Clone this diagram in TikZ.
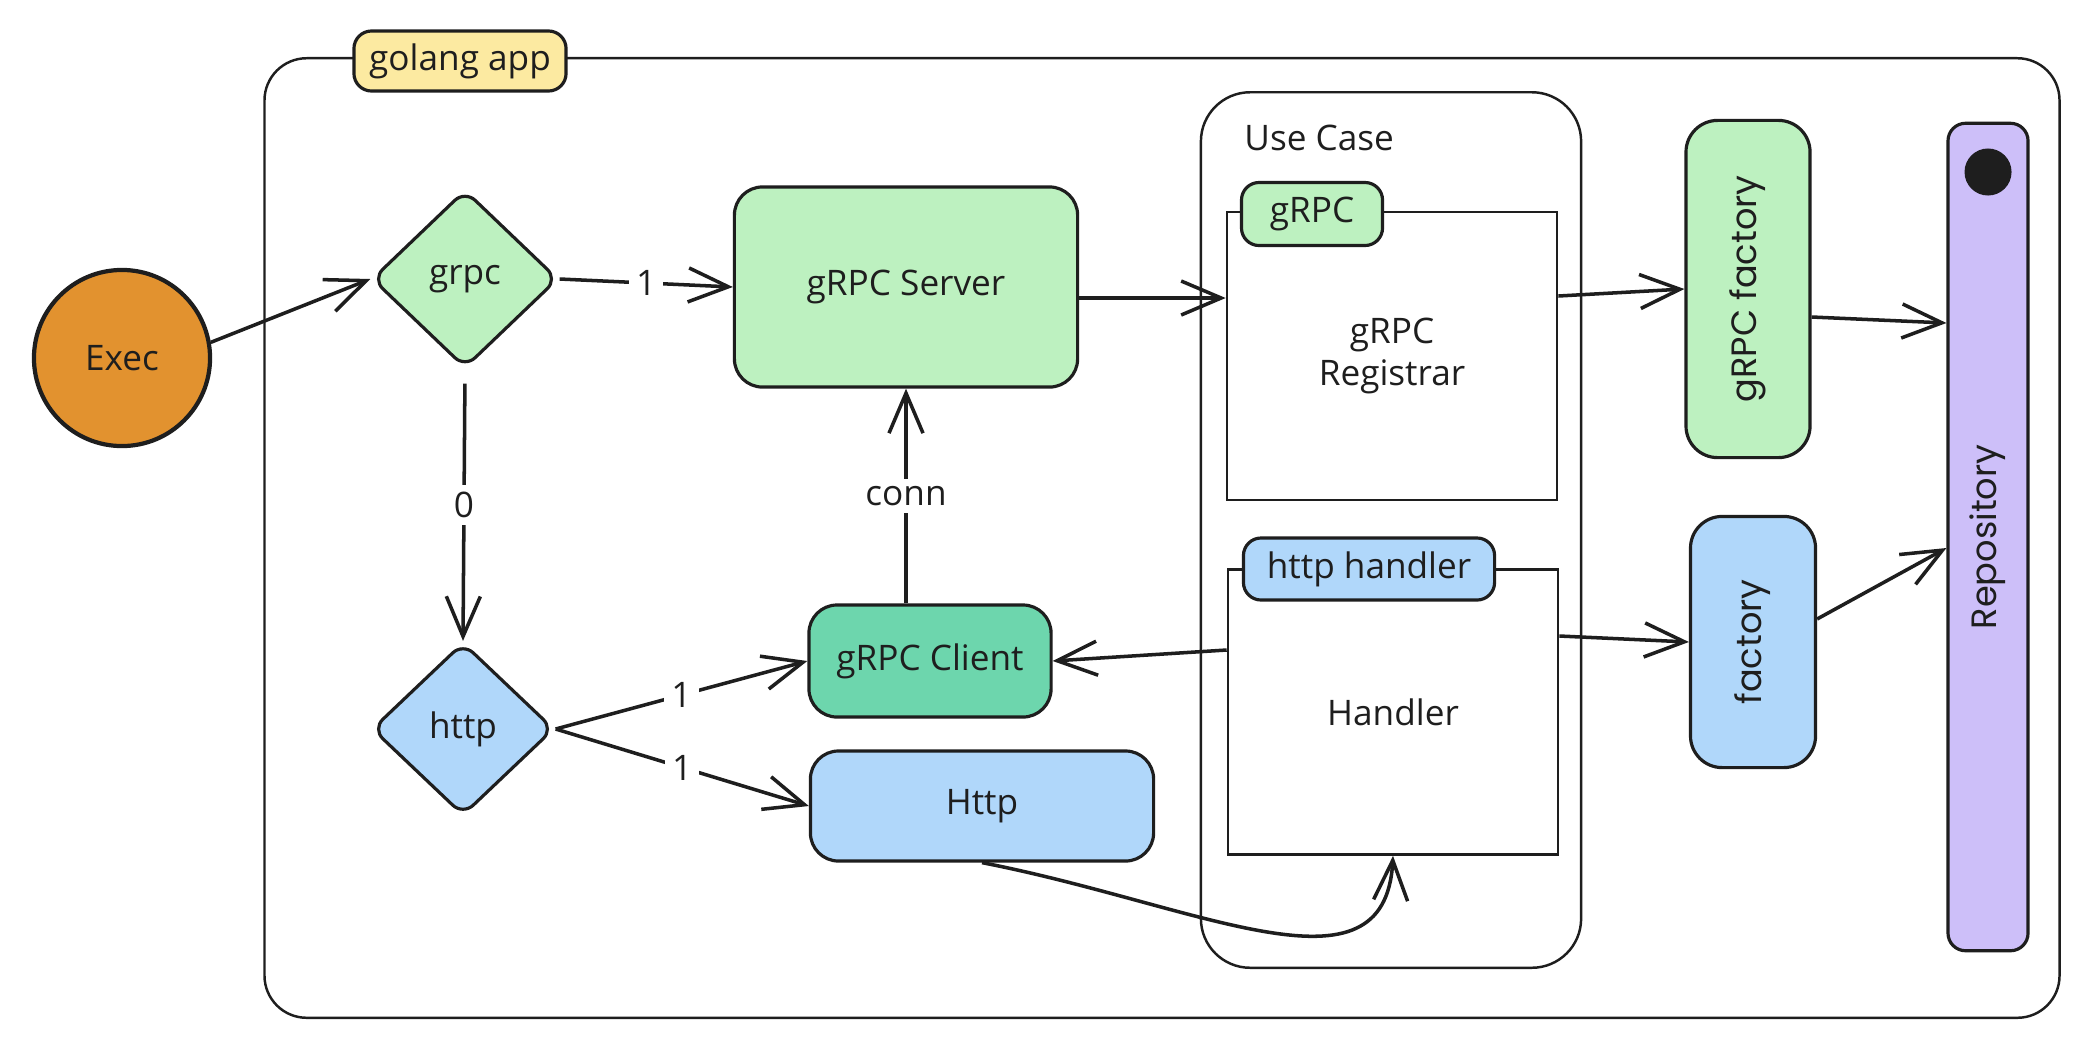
\documentclass[tikz,border=0pt]{standalone}
\usepackage{fontspec}
\setmainfont{Open Sans}
\newfontfamily\sidefont{Poppins}
\usetikzlibrary{arrows.meta,shapes.geometric,calc}
\definecolor{ink}{HTML}{1E1E1E}
\definecolor{execorange}{HTML}{E2922F}
\definecolor{grpcgreen}{HTML}{BDF1C0}
\definecolor{clientgreen}{HTML}{6DD6AD}
\definecolor{httpblue}{HTML}{B0D7FA}
\definecolor{repopurple}{HTML}{CDBFF9}
\definecolor{appyellow}{HTML}{FCEAA1}

\begin{document}
\begin{tikzpicture}[x=0.01cm,y=-0.01cm,font=\fontsize{10}{12}\selectfont]
\tikzstyle{every node}=[text=ink]
\tikzstyle{box}=[draw=ink,line width=0.9pt,rounded corners=8pt,align=center,inner sep=0pt]
\tikzstyle{choice}=[diamond,draw=ink,line width=0.9pt,rounded corners=4pt,inner sep=0pt]
\tikzstyle{frame}=[draw=ink,line width=0.7pt,fill=white,inner sep=0pt,align=center]
\tikzstyle{tab}=[draw=ink,line width=0.9pt,rounded corners=5pt,inner sep=0pt]
\tikzstyle{sidebar}=[box,rounded corners=9pt,rotate=90,font=\sidefont\fontsize{10}{12}\selectfont]
\tikzstyle{flow}=[draw=ink,line width=1pt,-{Straight Barb[length=4mm,width=3.4mm]}]
\tikzstyle{lbl}=[fill=white,inner sep=2pt]
\useasboundingbox (0,0) rectangle (2086,1048);

% frames
\node[frame,rounded corners=12pt,minimum width=17.94cm,minimum height=9.59cm] (app) at (1162,538) {};
\node[tab,fill=appyellow,minimum width=2.12cm,minimum height=0.6cm] (appname) at (460,61) {golang app};

\node[frame,rounded corners=14pt,minimum width=3.8cm,minimum height=8.75cm] (usecase) at (1391,530) {};
\node[anchor=west] (usecasename) at (1232,138) {Use Case};

\node[frame,minimum width=3.3cm,minimum height=2.88cm] (registrar) at (1392,356) {gRPC\\Registrar};
\node[tab,fill=grpcgreen,minimum width=1.41cm,minimum height=0.63cm] (grpctab) at (1312,214) {gRPC};
\node[frame,minimum width=3.3cm,minimum height=2.85cm] (handler) at (1393,712) {Handler};
\node[tab,fill=httpblue,minimum width=2.51cm,minimum height=0.62cm] (httptab) at (1369,569) {http handler};

\node[circle,draw=ink,line width=1.2pt,fill=execorange,minimum size=1.76cm,inner sep=0pt] (exec) at (122,358) {Exec};
\node[choice,fill=grpcgreen,minimum width=1.86cm,minimum height=1.78cm] (grpc) at (465,279) {grpc};
\node[choice,fill=httpblue,minimum width=1.82cm,minimum height=1.73cm] (http) at (463,729) {http};
\node[box,fill=grpcgreen,minimum width=3.43cm,minimum height=2cm] (server) at (906,287) {gRPC Server};
\node[box,fill=clientgreen,minimum width=2.42cm,minimum height=1.12cm] (client) at (930,661) {gRPC Client};
\node[box,fill=httpblue,minimum width=3.43cm,minimum height=1.1cm] (httpsrv) at (982,806) {Http};

\node[sidebar,fill=grpcgreen,minimum width=3.37cm,minimum height=1.24cm] (grpcfactory) at (1748,289) {gRPC factory};
\node[sidebar,fill=httpblue,minimum width=2.51cm,minimum height=1.25cm] (factory) at (1753,642) {factory};
\node[sidebar,fill=repopurple,rounded corners=5pt,minimum width=8.27cm,minimum height=0.8cm] (repo) at (1988,537) {Repository};
\node[circle,fill=ink,minimum size=0.47cm,inner sep=0pt] (repodot) at (1988,172) {};

\draw[flow] (exec.10) -- (grpc.west);
\draw[flow] (grpc.east) -- node[lbl] {1} (server.west);
\draw[flow,shorten <=0.14cm] (grpc.south) -- node[lbl] {0} (http.north);
\draw[flow] (client.north -| server.south) -- node[lbl] {conn} (server.south);
\draw[flow] (http.east) -- node[lbl] {1} (client.west);
\draw[flow] (http.east) -- node[lbl] {1} (httpsrv.west);
\draw[flow] ($(server.east)+(0,11)$) -- ($(server.east -| registrar.west)+(0,11)$);
\draw[flow] ($(registrar.east)+(0,-60)$) -- (grpcfactory.north);
\draw[flow] ($(grpcfactory.south)+(0,28)$) -- ($(repo.north |- grpcfactory.south)+(0,34)$);
\draw[flow] ($(handler.west)+(0,-62)$) -- (client.east);
\draw[flow] ($(handler.east)+(0,-76)$) -- (factory.north);
\draw[flow] ($(factory.south)+(0,-23)$) -- ($(repo.north)+(0,11)$);
\draw[flow] (httpsrv.south) .. controls (1200,905) and (1385,1005) .. (handler.south);
\end{tikzpicture}
\end{document}
